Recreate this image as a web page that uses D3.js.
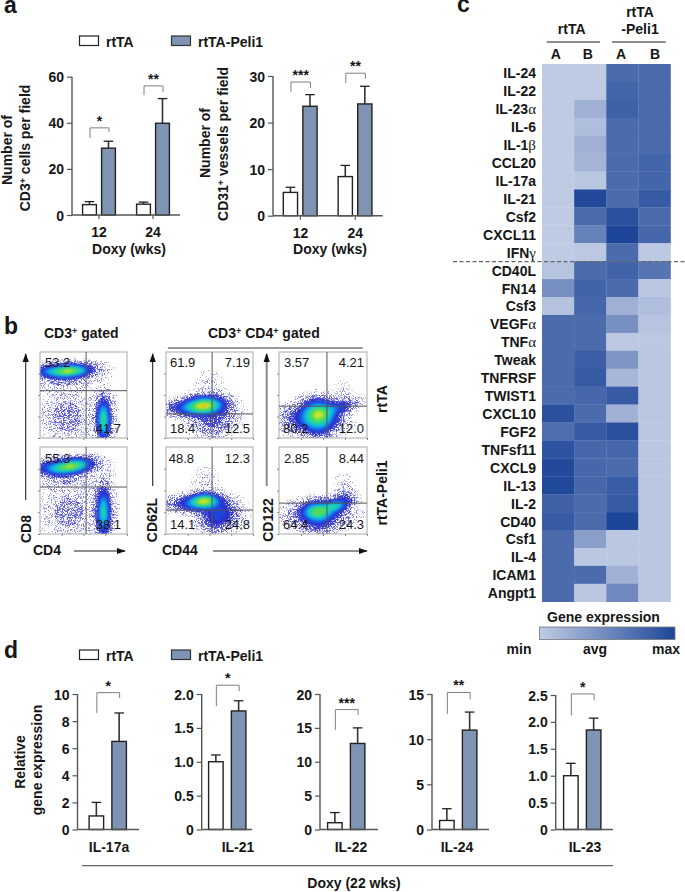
<!DOCTYPE html>
<html>
<head>
<meta charset="utf-8">
<script src="https://cdn.jsdelivr.net/npm/d3@7/dist/d3.min.js"></script>
<style>
html,body{margin:0;padding:0;background:#fff}
svg{display:block}
text{font-family:"Liberation Sans",Arial,sans-serif;fill:#161616}
.b{font-weight:700;font-size:14px}
</style>
</head>
<body>
<div id="chart"></div>
<script>
// ---------- DATA ----------
const seriesNames = ["rtTA", "rtTA-Peli1"];
const weeks = ["12", "24"];
const cd3Mean = [[4.5, 29], [4.7, 39.8]];
const cd3Err = [[5.8, 32], [5.6, 50.5]];
const cd31Mean = [[5, 23.5], [8.4, 24]];
const cd31Err = [[6.1, 26], [10.8, 27.8]];
const cd3Sig = [["*", 37.8, 33.4, 36], ["**", 56, 52, 53.3]];
const cd31Sig = [["***", 28.7, 26.6, 27.4], ["**", 30.6, 28.5, 29.4]];

const geneNames = ["IL-17a", "IL-21", "IL-22", "IL-24", "IL-23"];
const geneMean = [[1, 6.5], [1, 1.75], [1, 12.7], [1, 11], [1, 1.85]];
const geneErr = [[2, 8.6], [1.1, 1.9], [2.5, 15], [2.3, 13], [1.23, 2.07]];
const geneTicks = [[0, 2, 4, 6, 8, 10], [0, 0.5, 1, 1.5, 2], [0, 5, 10, 15, 20], [0, 5, 10, 15], [0, 0.5, 1, 1.5, 2, 2.5]];
const geneSig = [["*", 10.1, 8.6, 9.7], ["*", 2.13, 1.82, 2.04], ["***", 17.7, 14.7, 16.9], ["**", 15.17, 12.8, 14.4], ["*", 2.52, 2.12, 2.4]];

const heatColumns = ["A", "B", "A", "B"];
const heatRows = ["IL-24", "IL-22", "IL-23α", "IL-6", "IL-1β", "CCL20", "IL-17a", "IL-21", "Csf2", "CXCL11", "IFNγ", "CD40L", "FN14", "Csf3", "VEGFα", "TNFα", "Tweak", "TNFRSF", "TWIST1", "CXCL10", "FGF2", "TNFsf11", "CXCL9", "IL-13", "IL-2", "CD40", "Csf1", "IL-4", "ICAM1", "Angpt1"];
const heatValues = [
  [0, 0, .72, .72], [0, 0, .77, .72], [0, .2, .8, .72], [0, .1, .72, .72], [0, .2, .72, .72],
  [0, .17, .72, .77], [0, .03, .72, .77], [0, .97, .72, .85], [0, .72, .92, .72], [0, .55, 1, .75],
  [0, .02, .72, .02], [.05, .72, .78, .65], [.45, .78, .72, .03], [.07, .75, .2, .1], [.72, .72, .45, .05],
  [.72, .72, .02, .02], [.72, .82, .4, .03], [.72, .85, .15, .03], [.72, .75, .85, .03], [.92, .72, .2, .03],
  [.7, .85, .92, .03], [.9, .75, .75, .03], [.97, .75, .72, .03], [.98, .75, .83, .03], [.8, .72, .85, .03],
  [.85, .72, 1, .03], [.72, .33, .03, .03], [.72, .03, .03, .03], [.72, .72, .2, .03], [.72, .03, .5, .03]
];

// Flow plots: estimated population clusters [x, y, sdX, sdY, tiltDeg, density], in plot fractions
const cd8Top = [[.34, .22, .13, .042, -3, .72], [.13, .225, .12, .04, 0, .2], [.28, .29, .16, .085, 0, .04], [.68, .22, .1, .07, 0, .01], [.73, .79, .04, .12, 0, .5], [.73, .76, .07, .16, 0, .07], [.31, .75, .1, .1, 0, .04], [.31, .75, .22, .2, 0, .014]];
const cd8Bot = [[.36, .22, .13, .045, -8, .72], [.14, .24, .12, .045, 0, .18], [.28, .3, .15, .09, 0, .045], [.68, .25, .1, .08, 0, .011], [.73, .75, .04, .14, 0, .42], [.73, .74, .07, .18, 0, .07], [.33, .75, .1, .1, 0, .038], [.33, .75, .22, .2, 0, .014]];
const cd62Top = [[.44, .62, .12, .055, -4, .75], [.3, .65, .17, .05, 0, .2], [.55, .72, .15, .09, 0, .07], [.52, .86, .12, .08, 0, .045], [.5, .4, .11, .12, 0, .008]];
const cd62Bot = [[.44, .62, .09, .045, -4, .72], [.34, .65, .16, .05, 0, .22], [.62, .76, .12, .09, 0, .17], [.55, .87, .1, .07, 0, .06], [.45, .4, .1, .12, 0, .008]];
const cd122Top = [[.45, .72, .1, .085, 0, .65], [.38, .78, .17, .09, 0, .2], [.66, .65, .12, .045, -16, .17], [.45, .88, .09, .07, 0, .1], [.72, .5, .08, .1, 0, .008]];
const cd122Bot = [[.44, .74, .09, .06, 0, .58], [.63, .68, .08, .04, -10, .42], [.45, .78, .18, .08, 0, .15], [.75, .6, .07, .05, 0, .1], [.45, .9, .1, .06, 0, .07], [.75, .45, .08, .1, 0, .008]];

const cd8Labels = [["53.2", "41.7"], ["55.3", "38.1"]];
const cd62Labels = [["61.9", "7.19", "18.4", "12.5"], ["48.8", "12.3", "14.1", "24.8"]];
const cd122Labels = [["3.57", "4.21", "80.2", "12.0"], ["2.85", "8.44", "64.4", "24.3"]];

const densityLevels = [.002, .006, .02, .06, .11, .16, .23, .32, .44, .58, .74, .88, .96];
const densityColors = ["#9c9ce2", "#7c7cda", "#5757d2", "#3a3ecc", "#2a30c8", "#1c45e0", "#1480ee", "#10bce0", "#20d4a4", "#52dc58", "#c4e428", "#f4b01c", "#e85a28"];
const densitySpeckle = ["s1", "s2", "s3", "s4", null, null, null, null, null, null, null, null, null];

// ---------- COLOURS ----------
const barFill = ["#ffffff", "#7f94b2"];
const ink = "#222";
const axisInk = "#555";
const heatColor = d3.scaleLinear().domain([0, 1]).range(["#bfcbe3", "#1e4698"]);

// ---------- SVG ----------
const svg = d3.select("#chart").append("svg").attr("width", 685).attr("height", 892);
const defs = svg.append("defs");

function speckle(id, seed, gain, cut) {
  const f = defs.append("filter").attr("id", id).attr("x", 0).attr("y", 0).attr("width", 1).attr("height", 1)
    .attr("color-interpolation-filters", "sRGB");
  f.append("feTurbulence").attr("type", "fractalNoise").attr("baseFrequency", .85).attr("numOctaves", 2).attr("seed", seed).attr("result", "n");
  f.append("feColorMatrix").attr("in", "n").attr("type", "matrix")
    .attr("values", `0 0 0 0 0  0 0 0 0 0  0 0 0 0 0  ${gain} 0 0 0 ${cut}`).attr("result", "m");
  f.append("feComposite").attr("in", "SourceGraphic").attr("in2", "m").attr("operator", "in");
}
speckle("s1", 3, 9, -5.5);
speckle("s2", 7, 9, -5.0);
speckle("s3", 11, 9, -4.4);
speckle("s4", 5, 9, -3.6);
function blur(id, sd) {
  defs.append("filter").attr("id", id).attr("x", -.1).attr("y", -.1).attr("width", 1.2).attr("height", 1.2)
    .attr("color-interpolation-filters", "sRGB").append("feGaussianBlur").attr("stdDeviation", sd);
}
blur("softDots", .3);
blur("softCore", .8);

const marker = (id, color) => defs.append("marker").attr("id", id).attr("viewBox", "0 0 10 10").attr("refX", 9).attr("refY", 5)
  .attr("markerUnits", "userSpaceOnUse").attr("markerWidth", 9).attr("markerHeight", 9).attr("orient", "auto")
  .append("path").attr("d", "M0,1.5L10,5L0,8.5Z").attr("fill", color);
marker("arrow", "#111");

function label(x, y, parts, opt = {}) {
  const t = svg.append("text").attr("x", x).attr("y", y).attr("class", opt.plain ? null : "b")
    .attr("text-anchor", opt.anchor || "start").style("font-size", (opt.size || 14) + "px");
  if (opt.rotate) t.attr("transform", `rotate(-90 ${x} ${y})`);
  let pendingDy = 0;
  (Array.isArray(parts) ? parts : [parts]).forEach(p => {
    if (typeof p === "string") {
      const s = t.append("tspan").text(p);
      if (pendingDy) s.attr("dy", pendingDy);
      pendingDy = 0;
    } else if (p.sup) {
      t.append("tspan").attr("dy", -4.5).style("font-size", "9px").text(p.sup);
      pendingDy = 4.5;
    } else if (p.greek) t.append("tspan").style("font-family", "'Liberation Serif',serif").style("font-size", "15px").style("font-weight", 400).text(p.greek);
  });
  return t;
}
const hline = (x1, x2, y, c, w) => svg.append("line").attr("x1", x1).attr("x2", x2).attr("y1", y).attr("y2", y).attr("stroke", c).attr("stroke-width", w);

function legend(y) {
  seriesNames.forEach((s, i) => {
    const x = [79, 171][i];
    svg.append("rect").attr("x", x + .5).attr("y", y - 10).attr("width", 19).attr("height", 9.5)
      .attr("fill", barFill[i]).attr("stroke", i ? "#333" : ink).attr("stroke-width", 1.2);
    label(x + 27, y + 1, s);
  });
}

// ---------- BAR CHARTS ----------
function barChart(c) {
  const y = d3.scaleLinear().domain(c.domain).range([c.base, c.top]);
  const outer = d3.scaleBand().domain(c.groups).range([c.left, c.right]);
  const g = svg.append("g");
  c.groups.forEach((name, gi) => {
    const start = c.starts ? c.starts[gi] : outer(name) + c.inset;
    const inner = d3.scaleBand().domain(seriesNames).range([start, start + c.span]).paddingInner(c.pad);
    const bw = inner.bandwidth();
    seriesNames.forEach((s, si) => {
      const cx = inner(s) + bw / 2;
      g.append("line").attr("x1", cx).attr("x2", cx).attr("y1", y(c.mean[gi][si])).attr("y2", y(c.err[gi][si])).attr("stroke", "#333").attr("stroke-width", 1.6);
      g.append("line").attr("x1", cx - 4.8).attr("x2", cx + 4.8).attr("y1", y(c.err[gi][si])).attr("y2", y(c.err[gi][si])).attr("stroke", "#222").attr("stroke-width", 1.3);
      g.append("rect").attr("x", inner(s) + .6).attr("y", y(c.mean[gi][si])).attr("width", bw - 1.2).attr("height", c.base - y(c.mean[gi][si]))
        .attr("fill", barFill[si]).attr("stroke", ink).attr("stroke-width", 1.4);
    });
    const sig = c.sig[gi], xa = inner(seriesNames[0]) + bw / 2 + .5, xb = inner(seriesNames[1]) + bw / 2 + .5;
    g.append("path").attr("fill", "none").attr("stroke", "#808080").attr("stroke-width", 1)
      .attr("d", d3.line()([[xa, y(sig[2])], [xa, y(sig[1])], [xb, y(sig[1])], [xb, y(sig[3])]]));
    label((xa + xb) / 2, y(sig[1]) - 2, sig[0], { anchor: "middle" });
  });
  const ax = g.append("g").attr("transform", `translate(${c.left},0)`)
    .call(d3.axisLeft(y).tickValues(c.ticks).tickSize(5).tickPadding(3).tickFormat(v => v === 0 ? "0" : (c.dec ? d3.format(".1f")(v) : v)));
  const bx = g.append("g").attr("transform", `translate(0,${c.base})`)
    .call(d3.axisBottom(outer).tickSize(c.xticks ? 4 : 0).tickPadding(4));
  if (!c.xticks) bx.selectAll(".tick").remove();
  [ax, bx].forEach(a => {
    a.selectAll("path").attr("stroke", axisInk).attr("stroke-width", 1.4);
    a.selectAll(".tick line").attr("stroke", axisInk).attr("stroke-width", 1.2);
    a.selectAll("text").attr("class", "b").style("font-family", '"Liberation Sans",Arial,sans-serif').style("font-size", "14px").attr("fill", "#161616");
  });
  bx.select("path").attr("d", `M${c.left},0H${c.right}`);
  if (c.xticks) bx.selectAll("text").attr("dy", "1.02em");
  ax.select("path").attr("d", `M0,${c.base}V${c.top}`);
  ax.selectAll(".tick text").attr("dy", ".36em");
}

label(4, 13, "a", { size: 23 });
legend(46);
barChart({ groups: weeks, domain: [0, 60], ticks: [0, 20, 40, 60], base: 215, top: 76.7, left: 72, right: 180, inset: 10, span: 34, pad: .21, mean: cd3Mean, err: cd3Err, sig: cd3Sig, xticks: true });
barChart({ groups: weeks, domain: [0, 30], ticks: [0, 10, 20, 30], base: 215.7, top: 76, left: 273, right: 382.7, inset: 9.7, span: 35, pad: .21, mean: cd31Mean, err: cd31Err, sig: cd31Sig, xticks: true });
label(129, 254, "Doxy (wks)", { anchor: "middle" });
label(330, 254, "Doxy (wks)", { anchor: "middle" });
label(12, 150, "Number of", { rotate: true, anchor: "middle" });
label(30, 148, ["CD3", { sup: "+" }, " cells per field"], { rotate: true, anchor: "middle" });
label(210, 143, "Number of", { rotate: true, anchor: "middle" });
label(228, 144, ["CD31", { sup: "+" }, " vessels per field"], { rotate: true, anchor: "middle" });

label(4, 658, "d", { size: 23 });
legend(660);
const geneFrames = [[77.5, 139, 88.5], [201.7, 252, 208], [320, 378, 327], [432, 489, 439], [555.7, 613, 563]];
const geneCentres = [109, 238, 351, 457, 585];
geneNames.forEach((n, i) => {
  const f = geneFrames[i];
  const max = d3.max(geneTicks[i]);
  barChart({ groups: [n], domain: [0, max], ticks: geneTicks[i], dec: max < 5, base: 829.5, top: i === 4 ? 695 : 694, left: f[0], right: f[1], starts: [f[2]], span: 38.5, pad: .31, mean: [geneMean[i]], err: [geneErr[i]], sig: [geneSig[i]], xticks: false });
  label(geneCentres[i], 852, n, { anchor: "middle" });
});
hline(82, 613, 865.7, "#666", 1.3);
label(354, 888, "Doxy (22 wks)", { anchor: "middle" });
label(25, 762, "Relative", { rotate: true, anchor: "middle" });
label(42, 760, "gene expression", { rotate: true, anchor: "middle" });

// ---------- FLOW PLOTS ----------
const gridN = 87;
function flowPlot(x0, y0, w, h, gx, gy, clusters, clipId) {
  const sx = d3.scaleLinear().domain([0, 1]).range([x0, x0 + w]);
  const sy = d3.scaleLinear().domain([0, 1]).range([y0, y0 + h]);
  const grid = new Array(gridN * gridN);
  for (let j = 0; j < gridN; j++) for (let i = 0; i < gridN; i++) {
    const u = (i + .5) / gridN, v = (j + .5) / gridN;
    grid[j * gridN + i] = d3.sum(clusters, k => {
      const t = k[4] * Math.PI / 180, dx = u - k[0], dy = v - k[1];
      const a = (dx * Math.cos(t) + dy * Math.sin(t)) / k[2], b = (-dx * Math.sin(t) + dy * Math.cos(t)) / k[3];
      return k[5] * Math.exp(-(a * a + b * b) / 2);
    });
  }
  const contour = d3.contours().size([gridN, gridN]).thresholds(densityLevels)(grid);
  const path = d3.geoPath(d3.geoTransform({ point(px, py) { this.stream.point(sx(px / gridN), sy(py / gridN)); } }));
  defs.append("clipPath").attr("id", clipId).append("rect").attr("x", x0).attr("y", y0).attr("width", w).attr("height", h);
  const g = svg.append("g").attr("clip-path", `url(#${clipId})`);
  const dots = g.append("g").attr("filter", "url(#softDots)");
  const core = g.append("g").attr("filter", "url(#softCore)");
  contour.forEach((c, i) => {
    const p = (densitySpeckle[i] ? dots : core).append("path").attr("d", path(c)).attr("fill", densityColors[i]);
    if (densitySpeckle[i]) p.attr("filter", `url(#${densitySpeckle[i]})`);
  });
  const frame = svg.append("g");
  frame.append("rect").attr("x", x0).attr("y", y0).attr("width", w).attr("height", h).attr("fill", "none").attr("stroke", "#a8a8a8").attr("stroke-width", 1);
  const tl = frame.append("g").attr("transform", `translate(${x0},0)`).call(d3.axisLeft(sy).tickValues([.25, .5, .75, 1]).tickSize(2).tickFormat(""));
  const tb = frame.append("g").attr("transform", `translate(0,${y0 + h})`).call(d3.axisBottom(sx).tickValues([.25, .5, .75, 1]).tickSize(2).tickFormat(""));
  [tl, tb].forEach(a => { a.select("path").remove(); a.selectAll("text").remove(); a.selectAll("line").attr("stroke", "#888"); });
  frame.append("line").attr("x1", sx(gx)).attr("x2", sx(gx)).attr("y1", y0).attr("y2", y0 + h).attr("stroke", "#555").attr("stroke-width", 1);
  frame.append("line").attr("x1", x0).attr("x2", x0 + w).attr("y1", sy(gy)).attr("y2", sy(gy)).attr("stroke", "#555").attr("stroke-width", 1);
}
const flowPanels = [
  [40, 352, 87, 86, .53, .45, cd8Top], [40, 447, 87, 87, .53, .46, cd8Bot],
  [166, 352, 87, 86, .53, .72, cd62Top], [166, 447, 87, 87, .53, .725, cd62Bot],
  [279, 352, 88, 86, .545, .63, cd122Top], [279, 447, 88, 87, .545, .645, cd122Bot]
];
flowPanels.forEach((p, i) => flowPlot(p[0], p[1], p[2], p[3], p[4], p[5], p[6], "clip" + i));

const num = (x, y, s, anchor) => label(x, y, s, { plain: true, size: 13, anchor: anchor || "start" });
[367, 463].forEach((yy, r) => {
  num(45, yy, cd8Labels[r][0]);
  num(121, yy + 66, cd8Labels[r][1], "end");
  num(r ? 168.7 : 170, yy, cd62Labels[r][0]);
  num(250, yy, cd62Labels[r][1], "end");
  num(170, yy + 66, cd62Labels[r][2]);
  num(250, yy + 66, cd62Labels[r][3], "end");
  num(284, yy, cd122Labels[r][0]);
  num(364, yy, cd122Labels[r][1], "end");
  num(283, yy + 66, cd122Labels[r][2]);
  num(364, yy + 66, cd122Labels[r][3], "end");
});

label(4, 334, "b", { size: 23 });
label(44, 338, ["CD3", { sup: "+" }, " gated"]);
label(208, 338, ["CD3", { sup: "+" }, " CD4", { sup: "+" }, " gated"]);
hline(168, 362.7, 348, "#777", 1.3);

function arrow(x1, y1, x2, y2, w, c) {
  svg.append("line").attr("x1", x1).attr("y1", y1).attr("x2", x2).attr("y2", y2).attr("stroke", c).attr("stroke-width", w).attr("marker-end", "url(#arrow)");
}
arrow(25.7, 500, 25.7, 354, 1.1, "#222");
arrow(152.7, 486, 152.7, 354, 1.1, "#222");
arrow(266.7, 486, 266.7, 354, 2, "#8a8a8a");
arrow(74, 551, 125, 551, 1.1, "#222");
arrow(213, 551, 367, 551, 1.1, "#222");
label(31, 529, "CD8", { rotate: true, anchor: "middle" });
label(157, 520, "CD62L", { rotate: true, anchor: "middle" });
label(273, 520, "CD122", { rotate: true, anchor: "middle" });
label(33, 555, "CD4");
label(162, 555, "CD44");
label(387, 399, "rtTA", { rotate: true, anchor: "middle" });
label(387, 493, "rtTA-Peli1", { rotate: true, anchor: "middle" });

// ---------- HEATMAP ----------
const hx = d3.scaleBand().domain(d3.range(heatColumns.length)).range([542, 670.5]);
const hy = d3.scaleBand().domain(heatRows).range([64, 601.7]);
heatRows.forEach((r, j) => {
  heatColumns.forEach((c, i) => {
    svg.append("rect").attr("x", hx(i)).attr("y", hy(r)).attr("width", hx.bandwidth() + .3).attr("height", hy.bandwidth() + .3)
      .attr("fill", heatColor(heatValues[j][i]));
  });
  const m = r.match(/^(.*?)([αβγ])$/);
  label(536, hy(r) + hy.bandwidth() / 2 + 5.5, m ? [m[1], { greek: m[2] }] : r, { anchor: "end" });
});
svg.append("line").attr("x1", 453).attr("x2", 685).attr("y1", 261.7).attr("y2", 261.7).attr("stroke", "#666").attr("stroke-width", 1.2).attr("stroke-dasharray", "4,2.5");
label(457, 12, "c", { size: 23 });
label(571.7, 33.5, "rtTA", { anchor: "middle" });
label(640, 16.5, "rtTA", { anchor: "middle" });
label(640, 33.5, "-Peli1", { anchor: "middle" });
hline(546.7, 600, 42, "#666", 1.4);
hline(612, 665.7, 42, "#666", 1.4);
[555.7, 587.7, 621, 655].forEach((x, i) => label(x, 59, heatColumns[i], { anchor: "middle" }));

const grad = defs.append("linearGradient").attr("id", "heatGrad");
d3.range(0, 1.01, .25).forEach(t => grad.append("stop").attr("offset", t).attr("stop-color", heatColor(t)));
svg.append("rect").attr("x", 539.5).attr("y", 627).attr("width", 135.5).attr("height", 12.5).attr("fill", "url(#heatGrad)").attr("stroke", "#777").attr("stroke-width", .8);
label(603.5, 622, "Gene expression", { anchor: "middle" });
label(519, 654, "min", { anchor: "middle" });
label(595, 654, "avg", { anchor: "middle" });
label(666, 654, "max", { anchor: "middle" });
</script>
</body>
</html>
